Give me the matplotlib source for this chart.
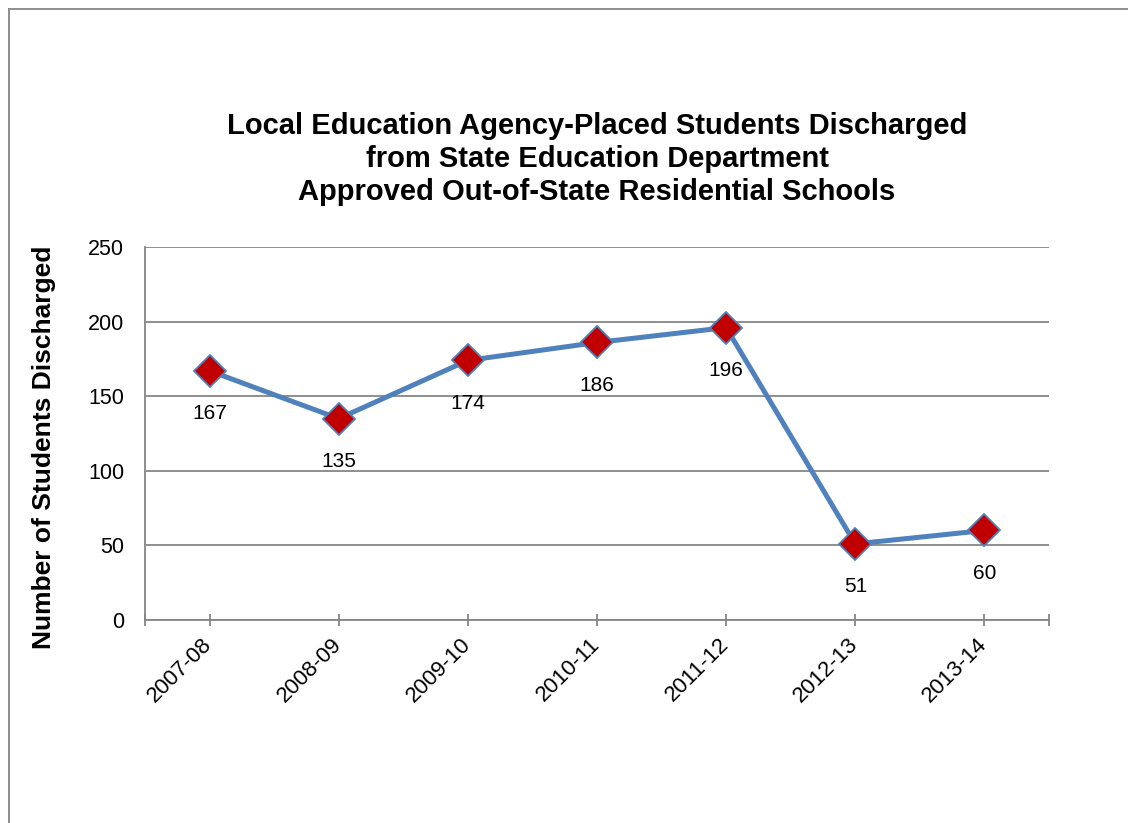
import numpy as np
import matplotlib
matplotlib.use('Agg')
import matplotlib.pyplot as plt
import matplotlib.transforms as mtrans
from matplotlib.lines import Line2D

years = ['2007-08', '2008-09', '2009-10', '2010-11', '2011-12', '2012-13', '2013-14']
discharged = [167, 135, 174, 186, 196, 51, 60]

title = ('Local Education Agency-Placed Students Discharged\n'
         'from State Education Department\n'
         'Approved Out-of-State Residential Schools')

plt.rcParams['font.family'] = ['Liberation Sans', 'DejaVu Sans']

fig = plt.figure(figsize=(11.28, 8.23), dpi=100)
ax = fig.add_axes([145/1128, 1 - 620/823, 904/1128, 373/823])

x = np.arange(len(years))
ax.plot(x, discharged, color='#4F81BD', lw=3.6, zorder=3,
        marker='D', ms=16, mfc='#C00000', mec='#4F81BD', mew=1.3)

for xi, v in zip(x, discharged):
    ax.annotate(str(v), (xi, v), xytext=(0, -31), textcoords='offset points',
                ha='center', va='center', fontsize=15)

ax.set_xlim(-0.5, len(years) - 0.5)
ax.set_ylim(0, 250)
ax.set_yticks(range(0, 251, 50))
ax.set_xticks(x)
ax.set_xticklabels(years, rotation=45, ha='right', rotation_mode='anchor')
ax.set_xticks([-0.5, len(years) - 0.5], minor=True)

ax.grid(axis='y', color='#868686', lw=1.3)
ax.set_axisbelow(True)
for s in ['top', 'right']:
    ax.spines[s].set_visible(False)
for s in ['left', 'bottom']:
    ax.spines[s].set_color('#868686')
    ax.spines[s].set_linewidth(1.3)

ax.tick_params(axis='y', length=0, pad=15, labelsize=15.5)
ax.tick_params(axis='x', which='both', direction='inout', length=8, width=1.3,
               color='#868686', pad=6, labelsize=16)

# nudge the slanted year labels a little left, like the original
shift = mtrans.ScaledTranslation(-8/100, 0, fig.dpi_scale_trans)
for lab in ax.get_xticklabels():
    lab.set_transform(lab.get_transform() + shift)

ax.set_ylabel('Number of Students Discharged', fontsize=19, fontweight='bold')
ax.yaxis.set_label_coords(-0.099, 0.464)

fig.text(597/1128, 1 - 159/823, title, ha='center', va='center',
         fontsize=21, fontweight='bold', linespacing=1.24)

# outer chart border (left and top edges visible)
fig.add_artist(Line2D([9/1128, 9/1128], [0, 1 - 9/823], color='#868686', lw=1.3))
fig.add_artist(Line2D([9/1128, 1], [1 - 9/823, 1 - 9/823], color='#868686', lw=1.3))

fig.savefig('out.png', dpi=100)
